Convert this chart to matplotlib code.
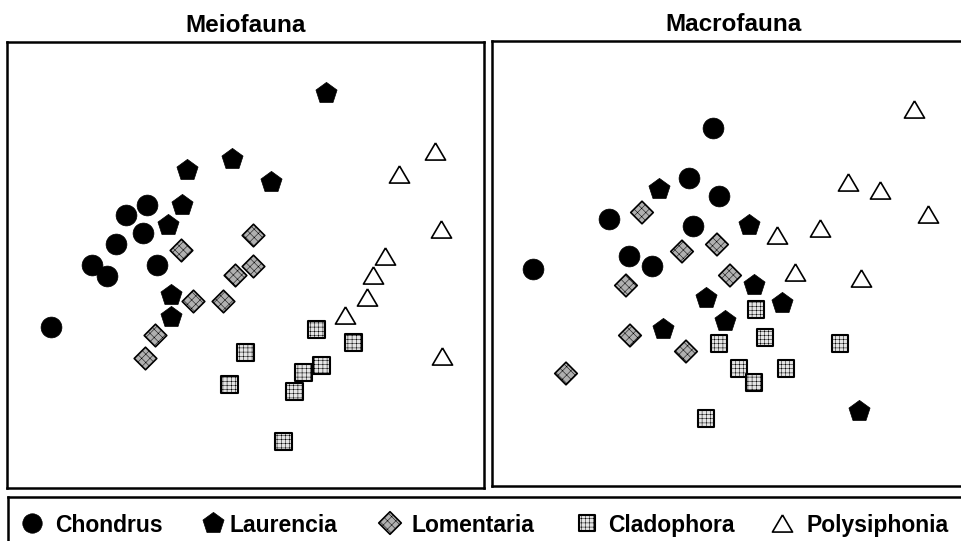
import matplotlib
matplotlib.use("Agg")
import matplotlib.pyplot as plt
import numpy as np

plt.rcParams['font.family'] = ['Liberation Sans', 'DejaVu Sans']
plt.rcParams['hatch.color'] = '#808080'
plt.rcParams['hatch.linewidth'] = 0.35

# MDS ordination scores, one (x, y) list per algal host, 8 samples each
meio_chondrus_x = [-1.94, -1.53, -1.38, -1.29, -1.19, -0.98, -1.02, -0.88]
meio_chondrus_y = [-0.62, 0.00, -0.11, 0.21, 0.50, 0.60, 0.32, 0.00]
meio_laurencia_x = [0.80, -0.13, -0.58, 0.25, -0.63, -0.77, -0.74, -0.74]
meio_laurencia_y = [1.72, 1.06, 0.95, 0.83, 0.60, 0.40, -0.30, -0.52]
meio_lomentaria_x = [0.08, -0.64, 0.08, -0.10, -0.52, -0.22, -0.90, -1.00]
meio_lomentaria_y = [0.29, 0.14, -0.02, -0.11, -0.37, -0.37, -0.71, -0.94]
meio_cladophora_x = [0.71, 1.08, 0.00, 0.76, 0.58, -0.16, 0.49, 0.38]
meio_cladophora_y = [-0.65, -0.78, -0.88, -1.01, -1.08, -1.20, -1.27, -1.77]
meio_polysiphonia_x = [1.89, 1.53, 1.95, 1.39, 1.27, 1.21, 0.99, 1.96]
meio_polysiphonia_y = [1.14, 0.91, 0.36, 0.09, -0.10, -0.32, -0.50, -0.91]

macro_chondrus_x = [-0.20, -0.44, -0.14, -1.24, -0.40, -1.04, -0.81, -2.00]
macro_chondrus_y = [1.36, 0.87, 0.69, 0.46, 0.39, 0.09, -0.01, -0.04]
macro_laurencia_x = [-0.74, 0.16, 0.21, -0.27, 0.49, -0.08, -0.70, 1.26]
macro_laurencia_y = [0.76, 0.40, -0.20, -0.33, -0.38, -0.56, -0.64, -1.46]
macro_lomentaria_x = [-0.91, -0.16, -0.51, -0.03, -1.07, -1.03, -0.47, -1.67]
macro_lomentaria_y = [0.52, 0.20, 0.13, -0.11, -0.21, -0.71, -0.87, -1.09]
macro_cladophora_x = [0.23, 0.32, -0.14, 1.07, 0.06, 0.53, 0.21, -0.27]
macro_cladophora_y = [-0.45, -0.73, -0.79, -0.79, -1.04, -1.04, -1.18, -1.54]
macro_polysiphonia_x = [1.81, 1.15, 1.47, 1.95, 0.87, 0.44, 0.62, 1.28]
macro_polysiphonia_y = [1.55, 0.83, 0.75, 0.51, 0.37, 0.30, -0.07, -0.13]

species = ["Chondrus", "Laurencia", "Lomentaria", "Cladophora", "Polysiphonia"]
panel_titles = ["Meiofauna", "Macrofauna"]

tri = np.array([[0, 0.85], [-1, -0.85], [1, -0.85], [0, 0.85]])
styles = {
    "Chondrus": dict(marker="o", s=15 ** 2, facecolor="black", edgecolor="black", linewidth=0.5),
    "Laurencia": dict(marker="p", s=16 ** 2, facecolor="black", edgecolor="black", linewidth=0.5),
    "Lomentaria": dict(marker="D", s=11.5 ** 2, facecolor="#b0b0b0", edgecolor="black",
                       linewidth=1.2, hatch="xxxx"),
    "Cladophora": dict(marker="s", s=12 ** 2, facecolor="#e4e4e4", edgecolor="black",
                       linewidth=1.5, hatch="++++"),
    "Polysiphonia": dict(marker=tri, s=14.5 ** 2, facecolor="white", edgecolor="black", linewidth=1.2),
}

W, H = 962, 541


def px_axes(fig, left, top, right, bottom):
    return fig.add_axes([left / W, 1 - bottom / H, (right - left) / W, (bottom - top) / H])


def frame(ax):
    ax.set_xticks([])
    ax.set_yticks([])
    for sp in ax.spines.values():
        sp.set_linewidth(1.8)


fig = plt.figure(figsize=(W / 100, H / 100), dpi=100)

ax1 = px_axes(fig, 7, 42, 484, 488)
ax2 = px_axes(fig, 492, 41, 975, 486)

panels = [
    (ax1, (-2.385, 2.385), (-2.235, 2.225), [
        (meio_chondrus_x, meio_chondrus_y), (meio_laurencia_x, meio_laurencia_y),
        (meio_lomentaria_x, meio_lomentaria_y), (meio_cladophora_x, meio_cladophora_y),
        (meio_polysiphonia_x, meio_polysiphonia_y)]),
    (ax2, (-2.41, 2.42), (-2.215, 2.235), [
        (macro_chondrus_x, macro_chondrus_y), (macro_laurencia_x, macro_laurencia_y),
        (macro_lomentaria_x, macro_lomentaria_y), (macro_cladophora_x, macro_cladophora_y),
        (macro_polysiphonia_x, macro_polysiphonia_y)]),
]

for (ax, xl, yl, series), title in zip(panels, panel_titles):
    for name, (xs, ys) in zip(species, series):
        ax.scatter(xs, ys, zorder=3, **styles[name])
    ax.set_xlim(*xl)
    ax.set_ylim(*yl)
    frame(ax)
    ax.set_title(title, fontsize=17.5, fontweight="bold", pad=7)

# legend strip along the bottom
lax = px_axes(fig, 8, 497, 985, 570)
lax.set_xlim(8, 985)
lax.set_ylim(570, 497)
frame(lax)
marker_x = [32, 213, 390, 587, 782]
label_x = [55, 230, 412, 608, 807]
for name, mx, tx in zip(species, marker_x, label_x):
    st = dict(styles[name])
    if name == "Chondrus":
        st["s"] = 14 ** 2
    lax.scatter([mx], [523], clip_on=False, **st)
    lax.text(tx, 532, name, fontsize=16.5, fontweight="bold", va="baseline", ha="left")

fig.savefig("out.png", dpi=100)
